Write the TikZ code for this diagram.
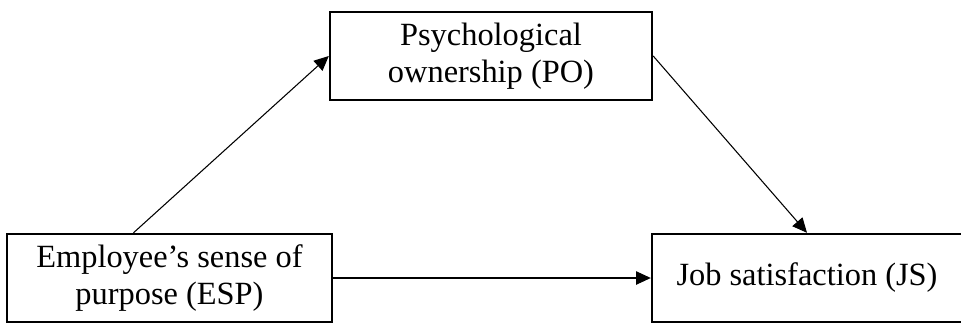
\documentclass[tikz,border=0pt]{standalone}
\usepackage{fontspec}
\setmainfont{Liberation Serif}
\usetikzlibrary{arrows.meta,calc}

\begin{document}
\begin{tikzpicture}[x=0.75pt,y=-0.75pt,>={Triangle[length=11pt,width=10pt]},
  box/.style={draw,line width=1.8pt,align=center,inner sep=0pt,minimum height=66pt,
    font=\fontsize{24.3}{28}\selectfont},
  link/.style={->,line width=0.8pt}]
\clip (0,0) rectangle (961,322);

\node[box,minimum width=241.5pt] (po) at (491,56) {Psychological\\ownership (PO)};
\node[box,minimum width=243.75pt] (esp) at (169.5,278) {Employee’s sense of\\purpose (ESP)};
\node[box,minimum width=232.5pt] (js) at (807,278) {Job satisfaction (JS)};

\coordinate (espout) at ($(esp.north west)!0.39!(esp.north east)$);

\draw[link] (espout) -- (po.west);
\draw[link] (po.east) -- (js.north);
\draw[link] (esp.east) -- (js.west);
\end{tikzpicture}
\end{document}
